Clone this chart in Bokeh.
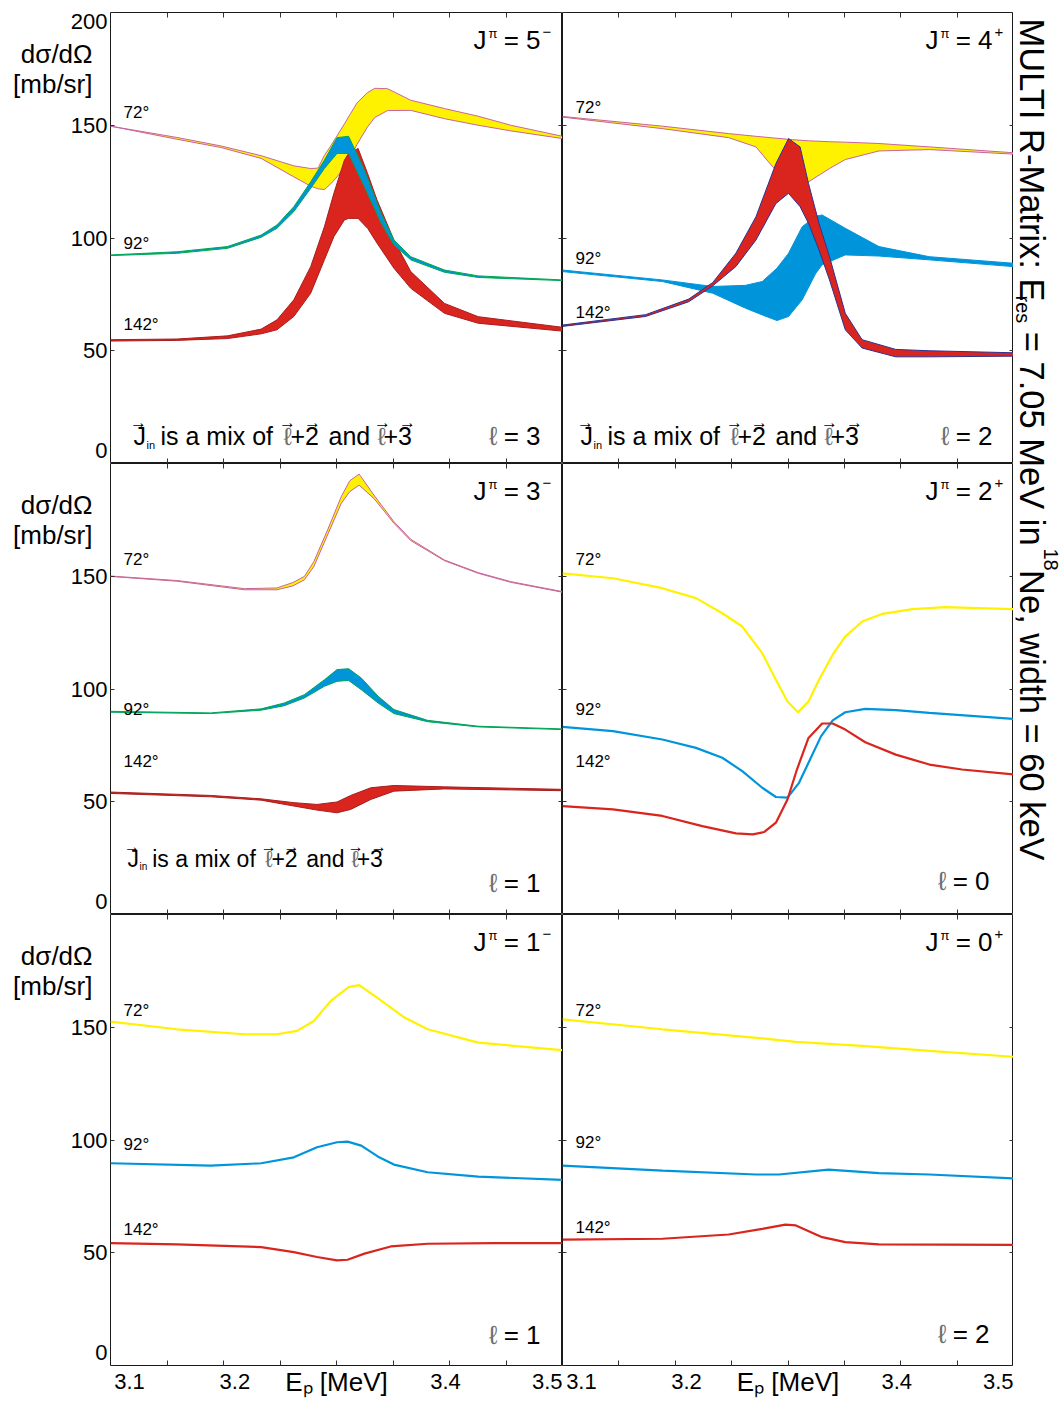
import numpy as np
from bokeh.plotting import figure
from bokeh.models import Range1d, FixedTicker, LinearAxis, Label, GridBox
from bokeh.embed import file_html
from bokeh.resources import INLINE

FONT = "Liberation Sans"
YELLOW = "#FFF200"
BLUE = "#0095DA"
RED = "#D9251D"
PINK = "#C8649E"
GREEN = "#00A651"
NAVY = "#2E3192"
DKRED = "#A61E1E"
ELLGRAY = "#6E6E6E"

# ---------------- data ----------------
energy_ticks = [3.1, 3.2, 3.4, 3.5]
y_ticks_top = [0, 50, 100, 150, 200]
y_ticks = [0, 50, 100, 150]
angle_names = ["72°", "92°", "142°"]

# J = 5-  (bands: lower / upper)
x5_72 = [3.082, 3.145, 3.187, 3.225, 3.256, 3.272, 3.279, 3.285, 3.291, 3.297, 3.304, 3.310, 3.316, 3.326, 3.333, 3.345, 3.367, 3.399, 3.431, 3.462, 3.511]
lo5_72 = [149.6, 143.8, 140.1, 135.3, 127.1, 123.0, 121.8, 121.5, 124.0, 127.1, 131.5, 136.0, 141.5, 149.3, 153.5, 156.5, 156.6, 152.9, 150.0, 147.5, 144.1]
hi5_72 = [149.6, 144.6, 140.8, 136.5, 132.0, 130.8, 131.0, 136.6, 140.8, 145.3, 150.6, 155.3, 159.9, 164.5, 166.4, 166.2, 161.1, 157.4, 154.0, 150.0, 145.1]
x5_92 = [3.082, 3.145, 3.193, 3.225, 3.240, 3.256, 3.272, 3.285, 3.297, 3.308, 3.323, 3.339, 3.351, 3.367, 3.399, 3.431, 3.511]
lo5_92 = [92.2, 93.2, 95.4, 100.3, 104.3, 111.7, 122.0, 130.8, 137.5, 137.5, 122.7, 106.5, 96.9, 90.3, 84.8, 82.5, 81.1]
hi5_92 = [92.5, 93.9, 96.2, 101.3, 105.8, 113.9, 124.9, 134.5, 144.5, 145.1, 130.1, 110.9, 99.1, 91.7, 85.8, 83.2, 81.4]
x5_142 = [3.082, 3.145, 3.193, 3.225, 3.240, 3.256, 3.272, 3.285, 3.294, 3.304, 3.308, 3.317, 3.326, 3.335, 3.351, 3.367, 3.399, 3.431, 3.511]
lo5_142 = [54.3, 54.6, 55.4, 57.5, 59.3, 65.2, 75.5, 90.3, 100.6, 108.0, 108.7, 108.7, 104.3, 97.7, 86.6, 77.7, 66.6, 62.2, 58.7]
hi5_142 = [54.9, 55.2, 56.6, 59.6, 63.7, 72.6, 87.3, 105.0, 119.8, 134.5, 137.5, 139.7, 128.6, 116.8, 99.1, 85.1, 71.0, 65.1, 60.4]

# J = 4+  (bands)
x4_72 = [3.082, 3.177, 3.240, 3.266, 3.282, 3.301, 3.316, 3.336, 3.351, 3.383, 3.431, 3.511]
lo4_72 = [153.6, 148.5, 144.5, 140.4, 131.5, 123.0, 124.9, 130.8, 134.8, 138.6, 139.2, 137.2]
hi4_72 = [153.9, 149.6, 146.3, 145.1, 144.4, 143.6, 143.1, 142.7, 142.5, 141.9, 140.4, 137.8]
x4_92 = [3.082, 3.177, 3.225, 3.256, 3.272, 3.286, 3.297, 3.310, 3.323, 3.329, 3.351, 3.383, 3.431, 3.511]
lo4_92 = [85.1, 80.7, 75.5, 68.9, 65.9, 63.4, 65.2, 72.6, 84.4, 88.1, 92.5, 92.0, 90.3, 87.3]
hi4_92 = [85.8, 81.4, 78.5, 79.0, 80.7, 86.6, 93.2, 105.0, 109.7, 110.2, 104.3, 96.2, 91.7, 88.8]
x4_142 = [3.082, 3.161, 3.202, 3.225, 3.247, 3.266, 3.285, 3.297, 3.308, 3.316, 3.326, 3.336, 3.351, 3.367, 3.399, 3.431, 3.511]
lo4_142 = [60.8, 65.2, 71.7, 78.8, 87.4, 99.1, 115.3, 119.8, 113.9, 106.5, 94.7, 81.4, 59.3, 51.2, 47.3, 47.3, 47.6]
hi4_142 = [61.4, 66.0, 72.9, 80.3, 93.3, 109.4, 133.0, 144.1, 140.4, 124.2, 106.5, 91.7, 66.6, 54.9, 50.6, 50.0, 49.1]

# J = 3-  (bands)
x3_72 = [3.082, 3.145, 3.209, 3.240, 3.255, 3.266, 3.275, 3.288, 3.301, 3.309, 3.318, 3.332, 3.351, 3.367, 3.399, 3.431, 3.462, 3.511]
lo3_72 = [149.9, 147.8, 144.0, 144.0, 145.7, 148.4, 154.3, 168.3, 182.3, 187.5, 190.4, 184.5, 173.5, 165.8, 156.9, 151.3, 147.3, 142.9]
hi3_72 = [150.1, 148.1, 144.5, 144.8, 147.2, 149.9, 156.5, 170.5, 185.3, 192.3, 195.3, 186.0, 174.2, 166.4, 157.2, 151.6, 147.6, 143.2]
x3_92 = [3.082, 3.177, 3.225, 3.247, 3.266, 3.285, 3.297, 3.308, 3.320, 3.336, 3.351, 3.383, 3.431, 3.511]
lo3_92 = [89.7, 89.1, 90.6, 92.6, 96.0, 101.2, 103.4, 103.8, 99.7, 93.8, 89.1, 85.5, 83.2, 82.0]
hi3_92 = [90.1, 89.4, 91.2, 93.8, 97.5, 104.1, 108.6, 109.0, 104.9, 96.8, 90.9, 86.1, 83.5, 82.3]
x3_142 = [3.082, 3.177, 3.225, 3.256, 3.278, 3.297, 3.310, 3.329, 3.351, 3.399, 3.511]
lo3_142 = [53.7, 52.2, 50.7, 48.1, 46.3, 45.1, 46.6, 51.0, 54.7, 55.7, 54.9]
hi3_142 = [54.3, 52.8, 51.3, 49.6, 48.8, 49.9, 52.8, 56.2, 57.2, 56.6, 55.5]

# J = 2+  (lines)
x2_72 = [3.082, 3.130, 3.177, 3.209, 3.234, 3.253, 3.272, 3.285, 3.296, 3.306, 3.316, 3.326, 3.339, 3.351, 3.367, 3.386, 3.415, 3.446, 3.511]
y2_72 = [151.3, 149.1, 144.7, 140.3, 133.6, 127.7, 115.9, 104.1, 94.5, 89.7, 94.5, 104.1, 115.2, 123.3, 129.9, 133.3, 135.4, 136.3, 135.4]
x2_92 = [3.082, 3.130, 3.177, 3.209, 3.234, 3.253, 3.272, 3.285, 3.296, 3.307, 3.316, 3.328, 3.339, 3.351, 3.370, 3.399, 3.431, 3.511]
y2_92 = [83.2, 81.3, 77.6, 73.9, 69.5, 63.6, 56.2, 52.1, 51.8, 58.4, 67.3, 79.1, 86.1, 89.7, 91.2, 90.6, 89.4, 86.7]
x2_142 = [3.082, 3.130, 3.177, 3.215, 3.247, 3.263, 3.274, 3.285, 3.296, 3.305, 3.316, 3.329, 3.339, 3.351, 3.370, 3.399, 3.431, 3.462, 3.511]
y2_142 = [48.1, 46.6, 43.7, 39.2, 36.0, 35.5, 36.6, 40.7, 51.0, 64.3, 78.3, 84.7, 84.7, 82.0, 76.4, 70.9, 66.5, 64.3, 62.1]

# J = 1-  (lines)
x1_72 = [3.082, 3.145, 3.209, 3.240, 3.259, 3.275, 3.291, 3.308, 3.318, 3.335, 3.361, 3.383, 3.431, 3.511]
y1_72 = [152.5, 149.1, 146.9, 146.9, 148.4, 152.8, 161.7, 167.8, 168.7, 163.1, 154.3, 149.1, 143.2, 139.8]
x1_92 = [3.082, 3.177, 3.225, 3.256, 3.278, 3.297, 3.307, 3.320, 3.336, 3.351, 3.383, 3.431, 3.511]
y1_92 = [89.7, 88.6, 89.7, 92.3, 96.8, 99.0, 99.3, 97.5, 92.6, 89.1, 85.7, 83.8, 82.3]
x1_142 = [3.082, 3.145, 3.225, 3.256, 3.278, 3.297, 3.307, 3.323, 3.348, 3.383, 3.446, 3.511]
y1_142 = [54.3, 53.7, 52.5, 50.3, 48.1, 46.6, 46.9, 49.6, 52.8, 54.0, 54.3, 54.3]

# J = 0+  (lines)
x0_72 = [3.082, 3.177, 3.272, 3.304, 3.367, 3.431, 3.511]
y0_72 = [153.5, 149.1, 145.1, 143.5, 141.7, 139.5, 136.9]
x0_92 = [3.082, 3.177, 3.266, 3.288, 3.335, 3.383, 3.431, 3.511]
y0_92 = [88.6, 86.4, 84.7, 84.7, 86.9, 85.3, 84.7, 83.0]
x0_142 = [3.082, 3.177, 3.240, 3.272, 3.294, 3.304, 3.329, 3.351, 3.383, 3.511]
y0_142 = [55.8, 56.2, 58.1, 60.6, 62.5, 62.1, 56.9, 54.7, 53.7, 53.5]

# ---------------- layout constants ----------------
X0, X1 = 3.082, 3.511
Y0, Y1 = 0.0, 200.0
FWS = [452, 451]          # frame widths (left / right column)
FH = 451
GUT_W = 110               # left gutter (y tick labels + quantity)
TOP_B = 12
BOT_B = 38
TITLE_W = 47
REF_H = 452.0             # reference frame height used for text placement
PXY = FH / (Y1 - Y0)
MID = 0.35                # baseline -> text-box middle, in em

xdiv = [X0 + k * (X1 - X0) / 8.0 for k in range(1, 8)]


def put(p, px, py, text, size, refw, align="left", baseline="alphabetic", color="black"):
    """Place text at reference-frame pixel coords (from frame top-left).
    'alphabetic' means py is the baseline; it is converted to a middle anchor."""
    if baseline == "alphabetic":
        py = py - MID * size
    x = X0 + px / refw * (X1 - X0)
    y = Y1 - py / REF_H * (Y1 - Y0)
    p.add_layout(Label(x=x, y=y, text=text, text_font=FONT, text_font_size=f"{size}px",
                       text_align=align, text_baseline="middle", text_color=color))


def axis(p, side, ticks, minor=None, labels=False, fixed=None, tick_len=5):
    t = FixedTicker(ticks=ticks, minor_ticks=minor or [])
    ax = LinearAxis(ticker=t)
    ax.axis_line_color = None
    ax.major_tick_line_color = "#333333"
    ax.minor_tick_line_color = "#333333"
    ax.major_tick_out = 0
    ax.minor_tick_out = 0
    ax.minor_tick_in = tick_len
    ax.major_tick_in = 0 if minor else tick_len
    if labels:
        ax.major_label_text_font = FONT
        ax.major_label_text_font_size = "22px"
        ax.major_label_text_color = "black"
        ax.major_label_standoff = 8
        ax.major_label_overrides = {t_: f"{t_:.1f}" for t_ in ticks}
        ax.axis_label = "Eₚ [MeV]"
        ax.axis_label_text_font = FONT
        ax.axis_label_text_font_size = "26px"
        ax.axis_label_text_font_style = "normal"
        ax.axis_label_text_color = "black"
        ax.axis_label_standoff = -25
    else:
        ax.major_label_text_color = None
        ax.major_label_text_font_size = "0px"
        ax.major_label_standoff = 0
    if fixed is not None:
        ax.fixed_location = fixed
    p.add_layout(ax, side)


def phrase(p, x0, base, s, refw):
    k = s / 24.0
    fs = round(s * 1.04)
    put(p, x0, base, "J", fs, refw)
    put(p, x0 + 13 * k, base + 4 * k, "in", round(11 * k), refw)
    put(p, x0 + 27 * k, base, "is a mix of", fs, refw)
    put(p, x0 + 150 * k, base, "ℓ", fs, refw, color=ELLGRAY)
    put(p, x0 + 157 * k, base, "+2", fs, refw)
    put(p, x0 + 195 * k, base, "and", fs, refw)
    put(p, x0 + 244 * k, base, "ℓ", fs, refw, color=ELLGRAY)
    put(p, x0 + 250 * k, base, "+3", fs, refw)
    for ax_ in [5, 154, 179, 249, 274]:
        put(p, x0 + ax_ * k, base - 22.5 * k, "→", round(17 * k), refw, align="center", baseline="middle")


panels = [
    dict(J="5", par="−", ell="3", kind="band",
         series=[(x5_72, lo5_72, hi5_72, YELLOW, PINK), (x5_142, lo5_142, hi5_142, RED, DKRED),
                 (x5_92, lo5_92, hi5_92, BLUE, GREEN)],
         ang=[100.5, 231.5, 313], phrase=(23, 433, 24), ellpos=(430, 434)),
    dict(J="4", par="+", ell="2", kind="band",
         series=[(x4_72, lo4_72, hi4_72, YELLOW, PINK), (x4_92, lo4_92, hi4_92, BLUE, BLUE),
                 (x4_142, lo4_142, hi4_142, RED, NAVY)],
         ang=[95.5, 247, 300.5], phrase=(18, 433, 24), ellpos=(430, 434)),
    dict(J="3", par="−", ell="1", kind="band",
         series=[(x3_72, lo3_72, hi3_72, YELLOW, PINK), (x3_92, lo3_92, hi3_92, BLUE, GREEN),
                 (x3_142, lo3_142, hi3_142, RED, DKRED)],
         ang=[96, 247, 299], phrase=(17, 404, 22), ellpos=(430, 430)),
    dict(J="2", par="+", ell="0", kind="line",
         series=[(x2_72, y2_72, YELLOW), (x2_92, y2_92, BLUE), (x2_142, y2_142, RED)],
         ang=[96, 247, 299], phrase=None, ellpos=(427, 428)),
    dict(J="1", par="−", ell="1", kind="line",
         series=[(x1_72, y1_72, YELLOW), (x1_92, y1_92, BLUE), (x1_142, y1_142, RED)],
         ang=[96, 231, 316], phrase=None, ellpos=(430, 431)),
    dict(J="0", par="+", ell="2", kind="line",
         series=[(x0_72, y0_72, YELLOW), (x0_92, y0_92, BLUE), (x0_142, y0_142, RED)],
         ang=[96, 229, 314], phrase=None, ellpos=(427, 430)),
]

children = []
for i, spec in enumerate(panels):
    r, c = divmod(i, 2)
    top = r == 0
    bottom = r == 2
    fw = FWS[c]
    p = figure(frame_width=fw, frame_height=FH,
               x_range=Range1d(X0, X1), y_range=Range1d(Y0, Y1),
               output_backend="svg", toolbar_location=None,
               x_axis_location=None, y_axis_location=None,
               min_border_left=0, min_border_right=0,
               min_border_top=TOP_B if top else 0, min_border_bottom=BOT_B if bottom else 0,
               outline_line_color="#1a1a1a", outline_line_width=1,
               background_fill_color="white", border_fill_color="white")
    p.xgrid.visible = False
    p.ygrid.visible = False

    # axes: tick marks inside on all four sides
    yt = y_ticks_top if top else y_ticks
    axis(p, "left", yt, fixed=X0, tick_len=4)
    axis(p, "right", yt, fixed=X1, tick_len=4)
    axis(p, "above", xdiv, fixed=Y1)
    if bottom:
        axis(p, "below", energy_ticks, minor=xdiv, labels=True)
    else:
        axis(p, "below", xdiv, fixed=Y0)

    # data
    if spec["kind"] == "band":
        for xs, lo, hi, fill, edge in spec["series"]:
            p.varea(x=xs, y1=lo, y2=hi, fill_color=fill, fill_alpha=1.0)
            p.line(xs, lo, line_color=edge, line_width=1)
            p.line(xs, hi, line_color=edge, line_width=1)
    else:
        for xs, ys, col in spec["series"]:
            p.line(xs, ys, line_color=col, line_width=2.2)

    # angle labels
    for name, py in zip(angle_names, spec["ang"]):
        put(p, 13, py, name, 17, fw, baseline="middle")

    # J^pi label
    put(p, 363, 37, "J", 26, fw)
    put(p, 378, 21, "π", 13, fw, baseline="middle")
    put(p, 430, 37, "= " + spec["J"], 26, fw, align="right")
    put(p, 432, 20, spec["par"], 15, fw, baseline="middle")

    # ell label
    ex, ey = spec["ellpos"]
    put(p, ex - 43, ey, "ℓ", 26, fw, align="right", color=ELLGRAY)
    put(p, ex, ey, "= " + spec["ell"], 26, fw, align="right")

    if spec["phrase"] is not None:
        phrase(p, *spec["phrase"], fw)

    children.append((p, r, 1 + c))

# ---------------- left gutters: y tick labels and quantity ----------------
# (frames of figures in one grid row are aligned by Bokeh, so the gutter uses the same borders)
for r in range(3):
    tb = TOP_B if r == 0 else 0
    bb = BOT_B if r == 2 else 0
    g = figure(width=GUT_W, height=FH + tb + bb, x_range=Range1d(0, GUT_W), y_range=Range1d(Y0, Y1),
               output_backend="svg", toolbar_location=None, x_axis_location=None, y_axis_location=None,
               min_border_left=0, min_border_right=0, min_border_top=tb, min_border_bottom=bb,
               outline_line_color=None, background_fill_color="white", border_fill_color="white")
    g.xgrid.visible = False
    g.ygrid.visible = False
    ticks = y_ticks_top if r == 0 else y_ticks
    for t in ticks:
        ty = t
        if t == Y0:
            ty = t + 13 / PXY
        elif t == Y1:
            ty = t - 8.5 / PXY
        g.add_layout(Label(x=107, y=ty, text=f"{t:g}", text_font=FONT, text_font_size="22px",
                           text_align="right", text_baseline="middle", text_color="black"))
    g.add_layout(Label(x=92, y=Y1 - 41.5 / PXY, text="dσ/dΩ", text_font=FONT, text_font_size="26px",
                       text_align="right", text_baseline="middle", text_color="black"))
    g.add_layout(Label(x=92, y=Y1 - 71.5 / PXY, text="[mb/sr]", text_font=FONT, text_font_size="26px",
                       text_align="right", text_baseline="middle", text_color="black"))
    children.append((g, r, 0))

# ---------------- vertical title ----------------
TOTAL_H = TOP_B + 3 * FH + BOT_B
tfig = figure(width=TITLE_W, height=TOTAL_H, x_range=Range1d(0, TITLE_W),
              y_range=Range1d(TOP_B + 3 * FH, TOP_B),          # page pixels, downwards
              output_backend="svg", toolbar_location=None, x_axis_location=None, y_axis_location=None,
              min_border_left=0, min_border_right=0, min_border_top=TOP_B, min_border_bottom=BOT_B,
              outline_line_color=None, background_fill_color="white", border_fill_color="white")
tfig.xgrid.visible = False
tfig.ygrid.visible = False

AW = {"M": .833, "U": .722, "L": .556, "T": .611, "I": .278, " ": .278, "R": .722, "-": .333, "a": .556,
      "t": .278, "r": .333, "i": .222, "x": .5, ":": .278, "E": .667, "e": .556, "s": .5, "=": .584,
      ".": .278, "V": .667, "n": .556, "N": .722, ",": .278, "w": .722, "d": .556, "h": .556, "k": .5}


def tw(s, size):
    return 0.97 * sum(AW.get(ch, 0.556) for ch in s) * size


TS, SS = 34.5, 20
base = 6.5               # baseline of the main title text (x inside the title figure)
pieces = [("MULTI R-Matrix: E", TS, 0), ("res", SS, -4.5), (" ", TS, None), ("= 7.05 MeV in", TS, 0),
          (" ", TS, None), ("18", SS, 23.5), ("Ne, width = 60 keV", TS, 0)]
ypos = 18
for txt, sz, dx in pieces:
    if dx is not None:
        tfig.add_layout(Label(x=base + dx + MID * sz, y=ypos, text=txt, text_font=FONT,
                              text_font_size=f"{sz}px", angle=-np.pi / 2, text_align="left",
                              text_baseline="middle", text_color="black"))
    ypos += tw(txt, sz)

children.append((tfig, 0, 3, 3, 1))

grid = GridBox(children=children, spacing=0)
open("out.html", "w").write(file_html(grid, INLINE))
